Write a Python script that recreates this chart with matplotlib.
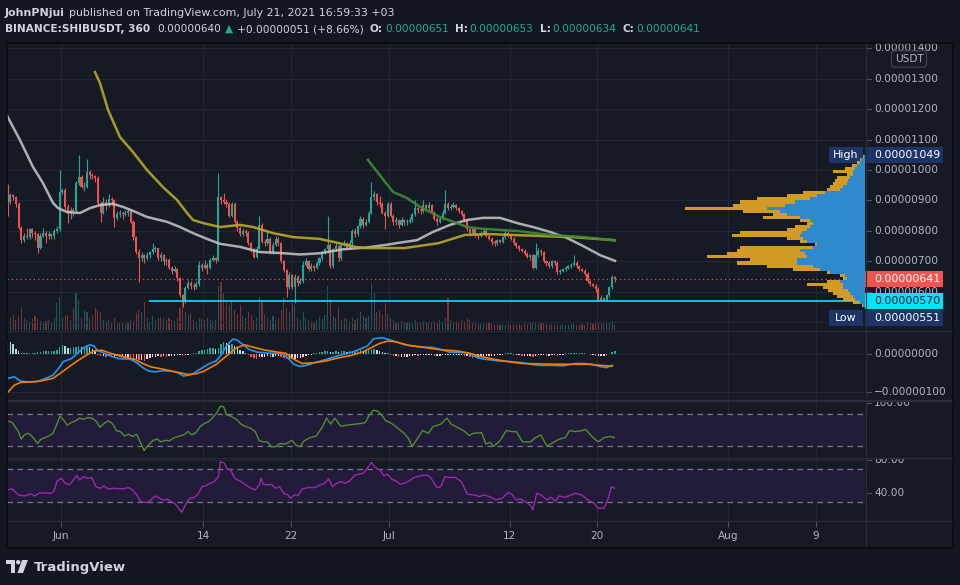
import numpy as np
import matplotlib
matplotlib.use("Agg")
import matplotlib.pyplot as plt
from matplotlib.lines import Line2D
from matplotlib.patches import Rectangle, Polygon, Ellipse
from matplotlib.transforms import blended_transform_factory as blend

W, H = 960, 585

# ---- SHIB/USDT 6h candles, prices in units of 1e-6 USDT ----
first_open = 9.50
close = [
    8.95, 9.18, 9.1, 8.9, 8.1, 7.7, 7.85, 7.8, 8.05, 7.95,
    7.9, 7.45, 7.85, 7.95, 7.85, 7.9, 7.82, 8.0, 8.05, 9.28,
    9.35, 8.8, 8.6, 8.7, 8.65, 9.57, 9.78, 9.45, 9.45, 9.95,
    9.84, 9.8, 9.75, 8.92, 8.6, 8.95, 8.85, 9.05, 9.0, 8.43,
    8.55, 8.6, 8.55, 8.6, 8.65, 8.3, 7.8, 7.3, 7.1, 7.2,
    7.1, 7.2, 7.3, 7.4, 7.44, 7.1, 7.2, 7.0, 7.05, 6.8,
    6.7, 6.75, 6.45, 5.9, 5.7, 6.14, 6.3, 6.2, 6.15, 6.25,
    6.89, 6.8, 6.9, 6.79, 7.05, 7.1, 7.05, 9.1, 9.0, 8.95,
    8.9, 8.5, 8.9, 8.3, 8.1, 7.9, 8.0, 7.95, 7.6, 7.4,
    7.15, 7.42, 8.2, 7.65, 7.6, 7.75, 7.3, 7.55, 7.75, 7.6,
    7.0, 6.72, 6.16, 6.55, 6.16, 6.5, 6.3, 6.35, 6.9, 7.0,
    6.75, 6.85, 6.8, 6.95, 7.1, 7.3, 7.4, 7.55, 6.85, 7.4,
    7.5, 7.1, 7.55, 7.6, 7.45, 7.6, 8.0, 7.9, 8.15, 8.4,
    8.2, 8.3, 8.6, 9.1, 9.2, 8.95, 8.9, 8.6, 8.5, 8.9,
    8.5, 8.3, 8.35, 8.2, 8.35, 8.3, 8.3, 8.35, 8.55, 8.75,
    8.7, 8.65, 8.85, 8.75, 8.85, 8.6, 8.4, 8.3, 8.4, 8.6,
    8.9, 8.75, 8.8, 8.85, 8.75, 8.65, 8.55, 8.35, 8.05, 7.95,
    8.05, 7.9, 7.85, 7.95, 8.0, 7.85, 7.75, 7.65, 7.6, 7.7,
    7.65, 7.8, 7.95, 7.85, 7.75, 7.6, 7.5, 7.4, 7.35, 7.25,
    7.15, 7.2, 6.8, 7.2, 7.35, 7.3, 7.0, 6.95, 6.85, 7.0,
    6.95, 6.65, 6.7, 6.75, 6.8, 6.85, 6.9, 6.95, 6.85, 6.75,
    6.7, 6.6, 6.35, 6.25, 6.2, 6.1, 5.75, 5.8, 5.75, 5.9,
    6.15, 6.5, 6.41]
high = [
    9.55, 9.25, 9.22, 9.15, 8.95, 8.15, 7.95, 8.1, 8.1, 8.1,
    8.0, 7.95, 7.95, 8.1, 8.0, 8.0, 7.95, 8.05, 8.15, 10.0,
    9.4, 9.4, 8.9, 8.8, 8.75, 9.65, 10.5, 9.85, 9.6, 10.35,
    10.0, 9.9, 9.85, 9.8, 8.95, 9.1, 9.05, 9.2, 9.1, 9.05,
    8.65, 8.7, 8.65, 8.7, 8.75, 8.7, 8.35, 7.85, 7.4, 7.3,
    7.25, 7.3, 7.35, 7.6, 7.5, 7.45, 7.3, 7.25, 7.1, 7.1,
    6.85, 6.85, 6.8, 6.5, 5.95, 6.2, 6.4, 6.35, 6.3, 6.35,
    7.0, 6.95, 7.05, 6.95, 7.1, 7.2, 7.15, 9.9, 9.15, 9.25,
    9.05, 8.95, 8.95, 8.95, 8.35, 8.15, 8.1, 8.05, 8.0, 7.65,
    7.45, 7.5, 8.5, 8.25, 7.75, 8.0, 7.8, 7.65, 7.85, 7.8,
    7.65, 7.05, 6.75, 6.65, 6.6, 6.6, 6.55, 6.45, 7.0, 7.1,
    7.05, 6.95, 6.9, 7.0, 7.15, 7.35, 7.45, 8.5, 7.6, 7.45,
    7.6, 7.55, 7.6, 7.7, 7.65, 7.7, 8.05, 8.1, 8.2, 8.5,
    8.45, 8.4, 8.65, 9.6, 9.3, 9.25, 9.15, 8.95, 8.65, 8.95,
    8.95, 8.55, 8.45, 8.4, 8.45, 8.4, 8.4, 8.45, 8.6, 9.0,
    8.8, 8.75, 9.0, 8.9, 8.95, 8.9, 8.65, 8.45, 8.5, 8.7,
    9.35, 8.95, 8.9, 8.95, 8.9, 8.8, 8.7, 8.6, 8.4, 8.1,
    8.1, 8.1, 7.95, 8.0, 8.1, 8.05, 7.9, 7.8, 7.7, 7.75,
    7.75, 7.85, 8.05, 8.0, 7.9, 7.8, 7.65, 7.55, 7.45, 7.4,
    7.3, 7.25, 7.25, 7.6, 7.45, 7.4, 7.35, 7.05, 7.0, 7.05,
    7.05, 7.0, 6.75, 6.8, 6.85, 6.9, 6.95, 7.2, 7.0, 6.9,
    6.8, 6.75, 6.65, 6.4, 6.3, 6.25, 6.15, 5.9, 5.85, 5.95,
    6.2, 6.55, 6.53]
low = [
    8.5, 8.9, 9.0, 8.8, 8.05, 7.6, 7.65, 7.75, 7.75, 7.8,
    7.7, 7.28, 7.4, 7.8, 7.6, 7.75, 7.75, 7.75, 7.95, 8.0,
    9.2, 8.7, 8.27, 8.4, 8.5, 8.6, 9.5, 9.4, 9.3, 9.4,
    9.7, 9.7, 9.6, 8.85, 8.3, 8.55, 8.7, 8.8, 8.85, 8.13,
    8.35, 8.45, 8.4, 8.5, 8.5, 8.25, 7.7, 7.25, 6.34, 7.0,
    6.95, 7.05, 7.1, 7.25, 7.3, 7.05, 7.0, 6.9, 6.9, 6.75,
    6.6, 6.65, 6.35, 5.85, 5.51, 5.65, 6.1, 6.1, 6.05, 6.1,
    6.2, 6.7, 6.75, 6.6, 6.75, 7.0, 6.95, 7.0, 8.9, 8.9,
    8.8, 8.45, 8.45, 8.25, 8.0, 7.85, 7.85, 7.85, 7.55, 7.3,
    7.1, 7.1, 7.4, 7.6, 7.5, 7.55, 7.25, 7.25, 7.5, 7.5,
    6.95, 6.65, 5.84, 6.1, 6.1, 5.64, 6.2, 6.25, 6.3, 6.85,
    6.7, 6.7, 6.7, 6.75, 6.9, 7.05, 7.25, 7.35, 6.8, 6.8,
    7.35, 7.0, 7.05, 7.5, 7.4, 7.4, 7.55, 7.8, 7.85, 8.1,
    8.1, 8.15, 8.25, 8.55, 9.0, 8.85, 8.8, 8.55, 8.05, 8.45,
    8.45, 8.2, 8.2, 8.1, 8.15, 8.2, 8.2, 8.25, 8.3, 8.5,
    8.6, 8.55, 8.6, 8.65, 8.7, 8.55, 8.35, 8.2, 8.25, 8.35,
    8.55, 8.7, 8.7, 8.75, 8.7, 8.6, 8.5, 8.3, 8.0, 7.85,
    7.9, 7.8, 7.75, 7.8, 7.9, 7.8, 7.7, 7.55, 7.5, 7.55,
    7.6, 7.6, 7.75, 7.8, 7.7, 7.55, 7.45, 7.35, 7.3, 7.2,
    7.1, 7.05, 6.75, 6.75, 7.15, 7.2, 6.95, 6.85, 6.8, 6.8,
    6.9, 6.6, 6.6, 6.65, 6.7, 6.75, 6.8, 6.85, 6.8, 6.7,
    6.65, 6.55, 6.3, 6.2, 6.15, 6.0, 5.7, 5.7, 5.7, 5.72,
    5.85, 6.1, 6.34]
volume = [
    17, 12, 15, 10, 14, 22, 12, 10, 8, 11,
    14, 12, 9, 8, 9, 10, 8, 12, 27, 33,
    12, 14, 15, 10, 22, 37, 30, 12, 20, 18,
    12, 15, 22, 20, 18, 10, 8, 10, 8, 12,
    6, 8, 7, 6, 8, 10, 9, 17, 20, 18,
    28, 12, 8, 14, 10, 12, 13, 12, 10, 12,
    10, 9, 12, 22, 30, 18, 15, 17, 10, 9,
    12, 11, 10, 12, 10, 9, 10, 44, 48, 38,
    30, 25, 28, 20, 16, 25, 14, 12, 18, 15,
    10, 12, 33, 28, 15, 12, 10, 14, 10, 12,
    20, 32, 22, 18, 27, 25, 12, 10, 18, 12,
    10, 9, 8, 10, 13, 11, 15, 44, 31, 14,
    12, 22, 10, 12, 11, 9, 12, 10, 12, 18,
    14, 12, 14, 47, 37, 18, 20, 15, 27, 16,
    12, 10, 8, 8, 9, 8, 8, 7, 8, 10,
    8, 7, 9, 8, 7, 8, 9, 8, 10, 8,
    12, 32, 10, 8, 9, 8, 10, 9, 12, 10,
    8, 7, 6, 6, 7, 6, 7, 6, 5, 6,
    5, 6, 5, 6, 5, 6, 5, 6, 5, 7,
    6, 7, 8, 7, 6, 7, 7, 6, 5, 6,
    5, 6, 5, 6, 5, 5, 6, 7, 5, 5,
    6, 5, 7, 8, 6, 7, 8, 7, 6, 8,
    7, 9, 5]

# MACD, units of 1e-8
macd_hist = [
    34, 32, 26, 13, 8, 3, 3, 3, 3, 3,
    3, 5, 5, 8, 8, 8, 8, 8, 11, 18,
    24, 21, 16, 16, 18, 18, 21, 18, 18, 21,
    18, 13, 8, -3, -5, -5, -8, -5, -8, -8,
    -5, -8, -8, -8, -8, -11, -13, -13, -16, -16,
    -18, -13, -11, -8, -8, -5, -8, -5, -8, -5,
    -5, -5, -3, -3, -5, -3, -3, 1, 3, 3,
    8, 11, 11, 13, 16, 16, 13, 16, 26, 32,
    29, 24, 26, 21, 18, 11, 8, 3, -3, -8,
    -11, -13, -8, -8, -8, -5, -8, -8, -5, -5,
    -8, -11, -13, -13, -13, -13, -11, -11, -8, -5,
    -3, -3, 3, 3, 5, 5, 8, 8, 5, 5,
    8, 5, 8, 8, 5, 8, 8, 8, 8, 11,
    8, 8, 11, 13, 13, 11, 8, 5, 3, 3,
    -3, -5, -5, -8, -8, -8, -8, -5, -5, -3,
    -5, -3, -3, -3, -3, -3, -5, -5, -5, -3,
    -3, -3, -3, -3, -3, -3, -3, -5, -5, -8,
    -11, -8, -8, -5, -5, -5, -5, -5, -5, -3,
    -3, -3, 3, 3, 3, -3, -3, -3, -5, -5,
    -5, -5, -8, -5, -3, -3, -3, -5, -5, -3,
    -3, -5, -3, -3, 3, 3, 3, 3, 3, 3,
    3, 3, 1, -3, -3, -5, -5, -5, -5, -3,
    1, 5, 8]
macd_days = [-4.90, -4.27, -3.71, -3.15, -2.22, -1.47, -0.73, -0.17, 0.21, 0.95,
             1.51, 2.07, 2.63, 3.01, 3.38, 3.75, 4.50, 5.24, 6.36, 6.92,
             7.48, 8.04, 8.60, 9.35, 10.10, 10.66, 11.21, 11.96, 12.71, 13.45,
             14.20, 14.57, 15.13, 15.69, 16.07, 16.63, 17.18, 17.93, 19.05, 20.17,
             20.73, 21.29, 21.85, 22.41, 23.16, 24.27, 25.39, 26.51, 27.26, 28.01,
             28.57, 29.31, 29.87, 30.62, 31.36, 32.11, 33.23, 33.98, 34.72, 35.47,
             36.59, 37.34, 38.08, 38.83, 39.95, 41.07, 42.19, 42.93, 43.68, 44.80,
             45.92, 47.04, 47.78, 48.53, 49.27, 49.84, 50.39]
macd_line = [-65, -60, -71, -73, -73, -65, -56, -36, -20, -12,
             2, 17, 24, 21, 8, 5, -5, -12, -14, -23,
             -36, -45, -47, -44, -45, -49, -58, -54, -40, -27,
             -18, -5, 21, 39, 37, 25, 12, 5, 2, 2,
             -10, -27, -33, -30, -23, -14, -4, 4, 12, 21,
             40, 43, 39, 32, 25, 21, 18, 17, 12, 5,
             4, 1, -10, -14, -18, -20, -23, -27, -30, -30,
             -31, -25, -25, -27, -33, -36, -30]
signal_days = [-4.90, -4.27, -3.71, -2.59, -1.84, -0.73, 0.02, 0.77, 1.51, 2.26,
               3.01, 3.75, 4.50, 5.62, 6.74, 7.48, 8.23, 9.35, 10.47, 11.59,
               12.34, 13.08, 14.20, 15.13, 16.07, 16.81, 17.56, 18.68, 19.80, 20.54,
               21.29, 22.04, 23.16, 24.27, 25.39, 26.51, 27.63, 28.38, 29.13, 29.87,
               30.62, 31.74, 33.23, 34.72, 36.22, 37.34, 38.46, 39.57, 41.07, 42.19,
               43.68, 45.17, 46.66, 48.16, 49.27, 50.39]
signal_line = [-102, -82, -75, -73, -71, -64, -49, -33, -18, -4,
               8, 10, 2, -7, -14, -25, -34, -40, -47, -54,
               -52, -45, -27, -5, 17, 24, 18, 10, 5, 2,
               -14, -25, -23, -18, -10, -4, 6, 17, 28, 34,
               32, 23, 17, 11, 8, 2, -7, -14, -21, -25,
               -26, -27, -27, -27, -30, -32]

# oscillator (green, 20/80 bands)
osc_days = [-4.90, -4.46, -3.90, -3.64, -3.34, -3.04, -2.78, -2.52, -2.14, -1.84,
            -1.47, -1.10, -0.73, -0.35, -0.09, 0.21, 0.58, 0.95, 1.33, 1.70,
            2.07, 2.45, 2.82, 3.19, 3.57, 3.94, 4.31, 4.69, 5.06, 5.43,
            5.80, 6.18, 6.55, 6.92, 7.30, 7.60, 7.86, 8.42, 8.79, 9.16,
            9.54, 9.91, 10.28, 10.84, 11.22, 11.59, 11.96, 12.33, 12.71, 13.08,
            13.45, 13.83, 14.20, 14.57, 14.87, 15.13, 15.51, 16.07, 16.44, 16.81,
            17.37, 17.76, 18.12, 18.49, 18.86, 19.24, 19.61, 19.98, 20.54, 21.10,
            21.48, 21.85, 22.22, 22.78, 23.34, 23.90, 24.27, 24.65, 25.02, 25.58,
            26.14, 26.89, 27.45, 27.82, 28.19, 28.57, 28.94, 29.31, 29.69, 30.06,
            30.43, 30.80, 31.36, 31.74, 32.11, 32.48, 33.04, 33.60, 33.98, 34.72,
            35.28, 35.66, 36.22, 36.77, 37.34, 37.71, 38.45, 38.83, 39.20, 39.57,
            40.13, 40.69, 41.25, 41.62, 42.19, 42.93, 43.31, 43.86, 44.42, 44.98,
            45.54, 46.10, 46.48, 47.04, 47.60, 47.97, 48.53, 49.09, 49.65, 50.21,
            50.58]
osc_vals = [67, 64, 47, 33, 41, 44, 41, 35, 25, 33,
            36, 39, 44, 62, 76, 69, 59, 64, 67, 72,
            70, 73, 72, 67, 55, 62, 67, 62, 49, 47,
            39, 42, 38, 42, 25, 12, 19, 31, 33, 28,
            31, 30, 35, 39, 41, 47, 41, 45, 56, 62,
            65, 72, 81, 94, 93, 78, 76, 69, 61, 57,
            53, 47, 30, 28, 28, 19, 19, 25, 24, 31,
            22, 19, 30, 36, 39, 56, 72, 61, 72, 57,
            59, 61, 62, 64, 78, 87, 85, 78, 67, 64,
            59, 53, 44, 35, 20, 31, 49, 44, 56, 61,
            72, 61, 55, 49, 40, 44, 45, 24, 27, 20,
            30, 49, 47, 47, 28, 28, 35, 41, 20, 27,
            33, 36, 49, 47, 49, 51, 38, 28, 36, 38,
            36]

# RSI (purple, 30/70 bands)
rsi_days = [-4.90, -4.46, -3.90, -3.34, -2.78, -2.40, -2.03, -1.47, -0.91, -0.65,
            -0.35, 0.02, 0.39, 0.77, 1.14, 1.44, 1.70, 2.07, 2.45, 2.82,
            3.19, 3.57, 3.94, 4.31, 4.87, 5.62, 6.18, 6.55, 6.92, 7.30,
            7.86, 8.23, 8.60, 8.98, 9.35, 9.72, 10.10, 10.47, 11.03, 11.40,
            11.77, 12.15, 12.52, 12.89, 13.27, 13.64, 14.01, 14.39, 14.57, 14.95,
            15.13, 15.51, 15.88, 16.44, 16.81, 17.37, 17.74, 18.12, 18.30, 18.49,
            19.05, 19.24, 19.61, 19.98, 20.36, 20.73, 20.99, 21.29, 21.66, 22.04,
            22.60, 23.16, 23.72, 24.09, 24.46, 24.83, 25.21, 25.58, 25.95, 26.33,
            26.89, 27.26, 27.63, 28.01, 28.38, 28.68, 29.13, 29.50, 29.87, 30.24,
            30.62, 30.99, 31.36, 31.74, 32.30, 32.86, 33.42, 33.79, 34.35, 34.72,
            35.10, 35.47, 36.03, 36.59, 37.15, 37.71, 38.27, 38.64, 39.20, 39.76,
            40.32, 40.88, 41.25, 41.62, 42.00, 42.56, 42.93, 43.12, 43.49, 43.86,
            44.42, 44.80, 45.17, 45.54, 46.10, 46.66, 47.04, 47.60, 48.16, 48.72,
            49.09, 49.65, 50.02, 50.32, 50.58]
rsi_vals = [44.2, 45.4, 38.1, 36.9, 39.3, 36.9, 40.1, 40.6, 40.1, 42.2,
            55.1, 58.3, 52.3, 50.3, 56.3, 61.6, 56.3, 60.3, 58.3, 59.1,
            48.2, 46.2, 49.0, 45.4, 46.2, 45.4, 47.0, 44.2, 38.1, 30.0,
            28.8, 32.1, 36.9, 34.1, 32.1, 32.9, 30.0, 26.8, 17.1, 26.8,
            34.1, 34.9, 38.9, 48.2, 49.4, 52.3, 54.3, 60.3, 78.5, 76.5,
            70.5, 68.4, 58.3, 54.3, 51.1, 46.2, 44.2, 50.3, 58.3, 51.1,
            50.3, 51.1, 46.2, 48.2, 40.1, 38.1, 34.1, 38.1, 37.3, 45.4,
            47.0, 47.0, 50.3, 52.3, 57.5, 48.2, 52.3, 54.3, 52.3, 54.3,
            62.4, 63.2, 64.4, 70.5, 77.7, 71.7, 68.4, 61.6, 63.2, 57.1,
            55.1, 51.1, 52.3, 54.3, 59.5, 61.2, 62.4, 59.1, 47.0, 48.2,
            60.3, 59.1, 59.5, 54.3, 38.9, 38.1, 36.1, 38.1, 36.1, 32.1,
            34.1, 41.4, 38.1, 32.1, 33.3, 28.8, 25.2, 19.9, 40.1, 38.1,
            32.1, 35.3, 30.0, 36.9, 35.3, 38.1, 40.1, 38.1, 32.1, 28.0,
            22.0, 22.0, 34.1, 48.2, 46.2]

# moving averages on the price panel
ma_fast_days = [-4.96, -3.75, -2.56, -1.65, -0.73, -0.27, 0.55, 1.74, 2.65, 3.56,
                4.75, 5.67, 6.58, 7.86, 9.69, 10.88, 12.07, 13.35, 14.53, 16.36,
                18.19, 20.02, 21.85, 23.67, 25.78, 27.97, 29.80, 30.99, 32.54, 34.00,
                35.56, 37.11, 38.57, 40.13, 41.68, 43.14, 44.70, 46.25, 47.71, 49.27, 50.64]
ma_fast = [11.80, 10.98, 10.10, 9.57, 8.92, 8.75, 8.62, 8.59, 8.75, 8.85,
           8.89, 8.79, 8.66, 8.46, 8.30, 8.13, 7.93, 7.74, 7.58, 7.48,
           7.31, 7.28, 7.23, 7.27, 7.40, 7.46, 7.55, 7.62, 7.70, 7.97,
           8.20, 8.36, 8.43, 8.43, 8.26, 8.13, 7.97, 7.77, 7.51, 7.21, 7.02]
ma_mid_days = [3.11, 3.56, 4.30, 5.39, 6.58, 7.86, 9.32, 10.60, 11.52, 12.07,
               12.98, 14.53, 16.36, 17.55, 19.38, 21.21, 23.67, 25.3, 26.9, 27.8,
               31.4, 34.5, 36.9, 39.0, 43.6, 46.7, 50.6]
ma_mid = [13.21, 12.85, 11.97, 11.08, 10.59, 10.00, 9.44, 9.02, 8.59, 8.36,
          8.26, 8.13, 8.20, 8.13, 7.93, 7.80, 7.74, 7.61, 7.48, 7.44,
          7.44, 7.60, 7.87, 7.90, 7.84, 7.80, 7.70]
ma_slow_days = [28.06, 29.62, 30.35, 31.63, 32.82, 34.64, 36.20, 37.11, 38.57, 41.68,
                44.70, 47.71, 50.64]
ma_slow = [10.33, 9.61, 9.28, 9.08, 8.79, 8.46, 8.26, 8.13, 8.07, 8.00,
           7.87, 7.80, 7.69]

# visible range volume profile, rows from 5.55 to 10.45
prof_total = [3, 12, 22, 28, 32, 37, 42, 58, 38, 22,
              25, 38, 72, 98, 128, 115, 158, 138, 128, 125,
              50, 65, 78, 133, 125, 78, 70, 58, 65, 102,
              92, 122, 180, 132, 125, 108, 78, 62, 38, 35,
              32, 30, 28, 18, 32, 20, 13, 8, 5, 2]
prof_up = [2, 5, 10, 12, 15, 17, 22, 22, 25, 18,
           20, 35, 45, 52, 68, 68, 58, 60, 65, 52,
           48, 58, 62, 65, 63, 58, 55, 52, 55, 65,
           78, 85, 98, 80, 70, 55, 48, 40, 25, 22,
           18, 17, 15, 12, 12, 10, 8, 5, 4, 1]

last_price = 6.41
level_line = 5.70
level_start = 8.0
range_high = 10.49
range_low = 5.51

date_ticks = [0, 13, 21, 30, 41, 49, 61, 69]
date_labels = ["Jun", "14", "22", "Jul", "12", "20", "Aug", "9"]
price_ticks = [6, 7, 8, 9, 10, 11, 12, 13, 14]

# ---- style ----
outer = "#131722"
bg = "#161a25"
grid = "#232733"
sep = "#2a2e39"
txt = "#b2b5be"
head = "#d1d4dc"
up_c = "#26a69a"
dn_c = "#ef5350"
fs = 7.6

fig = plt.figure(figsize=(W / 100, H / 100), dpi=100)
fig.patch.set_facecolor(outer)


def box(x0, y0, x1, y1):
    return [x0 / W, 1 - y1 / H, (x1 - x0) / W, (y1 - y0) / H]


def fpt(x, y):
    return (x / W, 1 - y / H)


fig.add_artist(Rectangle(fpt(6.5, 548), (953 - 6.5) / W, (548 - 43) / H,
                         transform=fig.transFigure, facecolor=bg,
                         edgecolor="none", zorder=-5))

x_left, x_right = -4.936, 73.49


def panel(x0, y0, x1, y1, ylim):
    a = fig.add_axes(box(x0, y0, x1, y1))
    a.set_xlim(x_left, x_right)
    a.set_ylim(*ylim)
    a.set_facecolor("none")
    for s in a.spines.values():
        s.set_visible(False)
    a.tick_params(left=False, bottom=False, labelleft=False, labelbottom=False)
    return a


main_lim = (4.754, 14.164)
macd_lim = (-118.4, 60.5)
osc_lim = (0, 101.9)
rsi_lim = (6.5, 82.9)

vax = panel(7, 43, 865, 330, (0, 287))
ax = panel(7, 43, 865, 330, main_lim)
pax = panel(7, 43, 865, 330, main_lim)
am = panel(7, 331, 865, 399, macd_lim)
ao = panel(7, 402, 865, 457, osc_lim)
ar = panel(7, 458, 865, 521, rsi_lim)

side_main = panel(865, 43, 953, 330, main_lim)
side_macd = panel(865, 331, 953, 399, macd_lim)
side_osc = panel(865, 402, 953, 457, osc_lim)
side_rsi = panel(865, 458, 953, 521, rsi_lim)

n = len(close)
days = -4.875 + 0.25 * np.arange(n)
c = np.array(close)
o = np.r_[first_open, c[:-1]]
is_up = c >= o
colors = np.where(is_up, up_c, dn_c)

# grids
for a in (vax, am, ao, ar):
    for d in date_ticks:
        a.axvline(d, color=grid, lw=0.8, zorder=0)
for p in [5] + price_ticks:
    ax.axhline(p, color=grid, lw=0.8, zorder=0)
am.axhline(0, color=grid, lw=0.8, zorder=0)
am.axhline(-100, color=grid, lw=0.8, zorder=0)
ar.axhline(80, color=grid, lw=0.8, zorder=0)
ar.axhline(40, color=grid, lw=0.8, zorder=0)

# volume
vax.bar(days, volume, width=0.1, color=colors, alpha=0.45, zorder=1)

# candles
ax.vlines(days, low, high, colors=colors, lw=0.8, zorder=3)
ax.bar(days, np.maximum(np.abs(c - o), 0.03), bottom=np.minimum(o, c),
       width=0.19, color=colors, zorder=4)

ax.plot(ma_fast_days, ma_fast, color="#c8c8c8", lw=1.8, alpha=0.85, zorder=5)
ax.plot(ma_mid_days, ma_mid, color="#b9a82a", lw=1.8, alpha=0.9, zorder=5)
ax.plot(ma_slow_days, ma_slow, color="#3d8b37", lw=1.8, alpha=0.9, zorder=5)

ax.axhline(last_price, color=dn_c, lw=0.9, ls=(0, (1, 2.5)), zorder=2)
ax.hlines(level_line, level_start, x_right, color="#00e5ff", lw=1.2, zorder=6)

# volume profile, bars grow leftwards from the price scale
pax.set_xlim(858, 0)
levels = np.linspace(5.55, 10.45, len(prof_total))
pax.barh(levels, prof_total, height=0.1, color="#e3a725", linewidth=0,
         alpha=0.92, zorder=2)
pax.barh(levels, prof_up, height=0.1, color="#2189dc", linewidth=0,
         alpha=0.92, zorder=3)

# MACD
h = np.array(macd_hist)
prev = np.r_[h[0], h[:-1]]
hcol = np.where(h >= 0, np.where(h >= prev, "#26a69a", "#b2dfdb"),
                np.where(h < prev, "#ff5252", "#ffcdd2"))
am.bar(days, h, width=0.13, color=hcol, zorder=2)
am.plot(macd_days, macd_line, color="#2196f3", lw=1.2, zorder=3)
am.plot(signal_days, signal_line, color="#f57c00", lw=1.2, zorder=3)

# oscillators
band = "#221b3a"
dash = (0, (4.4, 3.6))
ao.axhspan(20, 80, color=band, zorder=0.5)
ao.axhline(80, color="#787b86", lw=0.9, ls=dash, zorder=1)
ao.axhline(20, color="#787b86", lw=0.9, ls=dash, zorder=1)
ao.plot(osc_days, osc_vals, color="#4f8f2c", lw=1.0, zorder=3)

ar.axhspan(30, 70, color=band, zorder=0.5)
ar.axhline(70, color="#787b86", lw=0.9, ls=dash, zorder=1)
ar.axhline(30, color="#787b86", lw=0.9, ls=dash, zorder=1)
ar.plot(rsi_days, rsi_vals, color="#9c27b0", lw=1.0, zorder=3)

# date axis
ar.set_xticks(date_ticks)
ar.set_xticklabels(date_labels)
ar.tick_params(bottom=True, labelbottom=True, length=4, width=0.8,
               color="#50535e", labelcolor=txt, labelsize=fs, pad=3)


# right scales
def scale_label(a, v, s):
    tr = blend(a.transAxes, a.transData)
    a.plot([0.012, 0.07], [v, v], transform=tr, color="#50535e", lw=0.8,
           clip_on=True)
    a.text(9 / 88, v, s, transform=tr, color=txt, fontsize=fs, va="center",
           ha="left", clip_on=True)


for p in price_ticks:
    scale_label(side_main, p, f"{p / 1e6:.8f}")
for v in (0, -100):
    scale_label(side_macd, v, f"{v / 1e8:.8f}".replace("-", "\u2212"))
scale_label(side_osc, 100, "100.00")
scale_label(side_rsi, 80, "80.00")
scale_label(side_rsi, 40, "40.00")


def badge(a, v, s, fc, tc):
    tr = blend(a.transAxes, a.transData)
    hgt = 16 / 30.5
    a.add_patch(Rectangle((0, v - hgt / 2), 78 / 88, hgt, transform=tr,
                          facecolor=fc, edgecolor="none", clip_on=False, zorder=8))
    a.text(9 / 88, v, s, transform=tr, color=tc, fontsize=fs + 0.3,
           va="center", ha="left", zorder=9, clip_on=False)


navy = "#1c3566"
badge(side_main, last_price, f"{last_price / 1e6:.8f}", "#f05350", "white")
badge(side_main, level_line, f"{level_line / 1e6:.8f}", "#00e5ff", "#131722")
badge(side_main, range_high, f"{range_high / 1e6:.8f}", navy, "white")
low_slot = range_low - 0.35  # pushed below the cyan label
badge(side_main, low_slot, f"{range_low / 1e6:.8f}", navy, "white")

trm = blend(fig.transFigure, ax.transData)
for v, s in ((range_high, "High"), (low_slot, "Low")):
    hgt = 16 / 30.5
    ax.add_patch(Rectangle((829 / W, v - hgt / 2), 34 / W, hgt, transform=trm,
                           facecolor=navy, edgecolor="none", clip_on=False, zorder=8))
    ax.text(846 / W, v, s, transform=trm, color="white", fontsize=fs + 0.3,
            va="center", ha="center", zorder=9, clip_on=False)

fig.text(*fpt(909, 59), "USDT", color=txt, fontsize=fs, ha="center", va="center",
         bbox=dict(boxstyle="round,pad=0.3,rounding_size=0.35", fc=bg,
                   ec="#434651", lw=0.8))

# frame and separators
def fline(xs, ys, color, lw):
    fig.add_artist(Line2D([x / W for x in xs], [1 - y / H for y in ys],
                          transform=fig.transFigure, color=color, lw=lw, zorder=10))


for y in (330.5, 457.5, 521):
    fline([6.5, 953], [y, y], sep, 0.8)
fline([6.5, 953], [400.5, 400.5], sep, 1.6)
fline([865.5, 865.5], [43, 548], sep, 0.8)
fline([6.5, 953, 953, 6.5, 6.5], [43, 43, 548, 548, 43], "#0a0c12", 1.2)

# header lines
r = fig.canvas.get_renderer()


def write(parts, x, y, size):
    for s, color, weight, gap in parts:
        t = fig.text(x / W, 1 - y / H, s, color=color, fontsize=size,
                     fontweight=weight, ha="left", va="center")
        x += t.get_window_extent(r).width + gap


teal = "#22ab94"
write([("JohnPNjui", head, "bold", 4),
       ("published on TradingView.com, July 21, 2021 16:59:33 +03", head, "normal", 0)],
      5, 13, 7.9)
write([("BINANCE:SHIBUSDT, 360", head, "bold", 7),
       ("0.00000640", head, "normal", 4),
       ("\u25b2", teal, "normal", 4),
       ("+0.00000051 (+8.66%)", head, "normal", 6),
       ("O:", head, "bold", 2), ("0.00000651", teal, "normal", 6),
       ("H:", head, "bold", 2), ("0.00000653", teal, "normal", 6),
       ("L:", head, "bold", 2), ("0.00000634", teal, "normal", 6),
       ("C:", head, "bold", 2), ("0.00000641", teal, "normal", 0)],
      5, 29, 7.6)

# footer logo
logo = "#d1d4dc"
fig.add_artist(Polygon([fpt(6, 560), fpt(15, 560), fpt(15, 573), fpt(11, 573),
                        fpt(11, 564), fpt(6, 564)], closed=True,
                       transform=fig.transFigure, fc=logo, ec="none"))
fig.add_artist(Ellipse(fpt(18.2, 562.2), 4.4 / W, 4.4 / H,
                       transform=fig.transFigure, fc=logo, ec="none"))
fig.add_artist(Polygon([fpt(22, 560), fpt(28, 560), fpt(23, 573), fpt(17.5, 573)],
                       closed=True, transform=fig.transFigure, fc=logo, ec="none"))
fig.text(*fpt(34, 567), "TradingView", color=logo, fontsize=9.5,
         fontweight="bold", ha="left", va="center")

fig.savefig("out.png", dpi=100, facecolor=fig.get_facecolor())
